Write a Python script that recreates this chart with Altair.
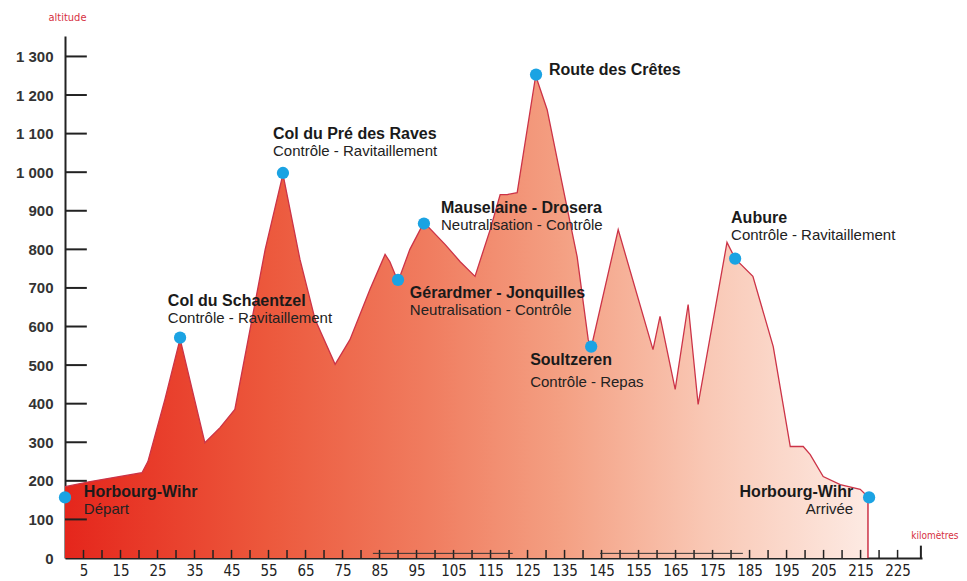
import altair as alt
import pandas as pd

# ---- elevation profile (km, altitude m) ----
profile_km = [0, 6.8, 20.8, 22.4, 27.0, 31.1, 37.8, 41.9, 45.9, 50.0, 54.1, 58.9,
              63.5, 67.6, 73.0, 77.0, 82.4, 86.5, 87.8, 90.0, 93.2, 97.0, 102.7,
              106.8, 110.8, 114.9, 117.6, 119.5, 122.2, 127.2, 130.3, 134.3, 138.4,
              141.4, 142.2, 149.5, 158.9, 160.8, 164.9, 168.4, 171.1, 178.9, 181.1,
              185.9, 191.4, 196.0, 199.5, 201.4, 204.9, 209.5, 214.9, 217.0]
profile_alt = [185, 198, 221, 250, 411, 568, 299, 338, 385, 592, 800, 995,
               774, 618, 502, 566, 696, 787, 768, 717, 800, 870, 813,
               768, 730, 851, 942, 942, 947, 1250, 1162, 973, 781,
               566, 545, 851, 540, 626, 437, 657, 398, 818, 776,
               730, 548, 289, 289, 268, 211, 190, 178, 159]

# ---- control points ----
stop_names = ["Horbourg-Wihr", "Col du Schaentzel", "Col du Pré des Raves",
              "Gérardmer - Jonquilles", "Mauselaine - Drosera", "Route des Crêtes",
              "Soultzeren", "Aubure", "Horbourg-Wihr"]
stop_subs = ["Départ", "Contrôle - Ravitaillement", "Contrôle - Ravitaillement",
             "Neutralisation - Contrôle", "Neutralisation - Contrôle", "",
             "Contrôle - Repas", "Contrôle - Ravitaillement", "Arrivée"]
stop_km = [0, 31.1, 58.9, 90.0, 97.0, 127.3, 142.2, 181.1, 217.3]
stop_alt = [157, 571, 998, 721, 867, 1253, 548, 776, 157]
label_km = [5.1, 27.8, 56.2, 93.2, 101.6, 130.8, 125.7, 180.0, 213.0]
label_alt = [171, 667, 1100, 688, 908, 1266, 512, 880, 172]
sub_alt = [126, 621, 1056, 644, 864, 1222, 455, 836, 126]
label_side = ["left", "left", "left", "left", "left", "left", "left", "left", "right"]

# ---- axes ----
y_ticks = [0, 100, 200, 300, 400, 500, 600, 700, 800, 900, 1000, 1100, 1200, 1300]
x_labels = [5, 15, 25, 35, 45, 55, 65, 75, 85, 95, 105, 115, 125, 135, 145,
            155, 165, 175, 185, 195, 205, 215, 225]
x_minor = [5, 10, 15, 20, 25, 30, 35, 40, 45, 50, 55, 60, 65, 70, 75, 80, 85,
           90, 95, 100, 105, 110, 115, 120, 125, 130, 135, 140, 145, 150, 155,
           160, 165, 170, 175, 180, 185, 190, 195, 200, 205, 210, 215, 220, 225]
x_max = 231.6
y_max = 1353
seg_start = [83.2, 144.6]
seg_end = [121.0, 183.2]

FONT = "Liberation Sans, Arial, sans-serif"
NARROW = "Liberation Sans Narrow, DejaVu Sans Condensed, sans-serif"
RED = "#d6303f"

xs = alt.Scale(domain=[0, x_max], nice=False, zero=False)
ys = alt.Scale(domain=[0, y_max], nice=False)

x_axis = alt.Axis(values=x_labels, ticks=False, grid=False, domainColor="#222",
                  domainWidth=2, labelPadding=5, labelFont=NARROW, labelFontSize=15,
                  labelColor="#222", labelOverlap=False, labelFlush=False,
                  title="kilomètres", titleX=893, titleY=-23, titleAlign="right",
                  titleBaseline="middle", titleColor=RED, titleFont=NARROW,
                  titleFontSize=10, titleFontWeight="normal")
y_axis = alt.Axis(values=y_ticks, ticks=False, grid=False, domainColor="#222",
                  domainWidth=2, labelPadding=12, labelFont=FONT, labelFontSize=15,
                  labelFontWeight="bold", labelColor="#333",
                  labelExpr="replace(format(datum.value, ','), ',', ' ')",
                  title="altitude", titleAngle=0, titleX=2, titleY=-19,
                  titleAlign="center", titleBaseline="middle", titleColor=RED,
                  titleFont=NARROW, titleFontSize=11, titleFontWeight="normal")

prof = pd.DataFrame({"km": profile_km, "alt": profile_alt})
stops = pd.DataFrame({"km": stop_km, "alt": stop_alt, "name": stop_names,
                      "sub": stop_subs})
labels = pd.DataFrame({"km": label_km, "alt": label_alt, "alt_sub": sub_alt,
                       "name": stop_names, "sub": stop_subs, "side": label_side})

X = alt.X("km:Q", scale=xs, axis=x_axis)
Y = alt.Y("alt:Q", scale=ys, axis=y_axis)

gradient = alt.Gradient(
    gradient="linear",
    stops=[alt.GradientStop(color="#e5261c", offset=0),
           alt.GradientStop(color="#ec583c", offset=0.25),
           alt.GradientStop(color="#f07c5f", offset=0.45),
           alt.GradientStop(color="#f4a083", offset=0.62),
           alt.GradientStop(color="#f9c8b5", offset=0.8),
           alt.GradientStop(color="#fdeae3", offset=1)],
    x1=0, x2=1, y1=0, y2=0)

area = alt.Chart(prof).mark_area(color=gradient, interpolate="linear").encode(x=X, y=Y)
line = alt.Chart(prof).mark_line(color="#cc3347", strokeWidth=1.3).encode(x=X, y=Y)

end_df = pd.DataFrame({"km": [profile_km[-1]], "alt": [0], "alt2": [profile_alt[-1]]})
end_rule = alt.Chart(end_df).mark_rule(color="#cc3347", strokeWidth=1.5).encode(
    x=X, y=Y, y2="alt2:Q")

xt = pd.DataFrame({"km": x_minor, "alt": [0] * len(x_minor), "alt2": [21] * len(x_minor)})
x_ticks = alt.Chart(xt).mark_rule(color="#222", strokeWidth=1.5).encode(
    x=X, y=Y, y2="alt2:Q")
xe = pd.DataFrame({"km": [x_max - 0.3], "alt": [0], "alt2": [32]})
x_end_tick = alt.Chart(xe).mark_rule(color="#222", strokeWidth=2).encode(
    x=X, y=Y, y2="alt2:Q")

segs = pd.DataFrame({"km": seg_start, "km2": seg_end, "alt": [12, 12]})
seg_rules = alt.Chart(segs).mark_rule(color="#333", strokeWidth=1).encode(
    x=X, x2="km2:Q", y=Y)

yt = pd.DataFrame({"alt": y_ticks[1:], "km": [0] * 13, "km2": [5.9] * 13})
y_tick_rules = alt.Chart(yt).mark_rule(color="#222", strokeWidth=2).encode(
    x=X, x2="km2:Q", y=Y)

dots = alt.Chart(stops).mark_circle(color="#1ba3e3", opacity=1, size=150).encode(x=X, y=Y)

def text_layers(side):
    base = alt.Chart(labels).transform_filter(alt.datum.side == side)
    title = base.mark_text(align=side, baseline="middle", font=FONT, fontSize=16,
                           fontWeight="bold", color="#1a1a1a").encode(
        x=X, y=Y, text="name:N")
    sub = base.mark_text(align=side, baseline="middle", font=FONT, fontSize=15,
                         color="#222").encode(
        x=X, y=alt.Y("alt_sub:Q", scale=ys, axis=y_axis), text="sub:N")
    return [title, sub]

chart = alt.layer(area, line, end_rule, x_ticks, x_end_tick, seg_rules, y_tick_rules,
                  dots, *text_layers("left"), *text_layers("right")).properties(
    width=857, height=522,
    autosize=alt.AutoSizeParams(type="none"),
    padding={"left": 57, "top": 28, "right": 37, "bottom": 20},
    background="white",
).configure_view(stroke=None)

chart.save("out.html", embed_options={"renderer": "svg", "actions": False})
